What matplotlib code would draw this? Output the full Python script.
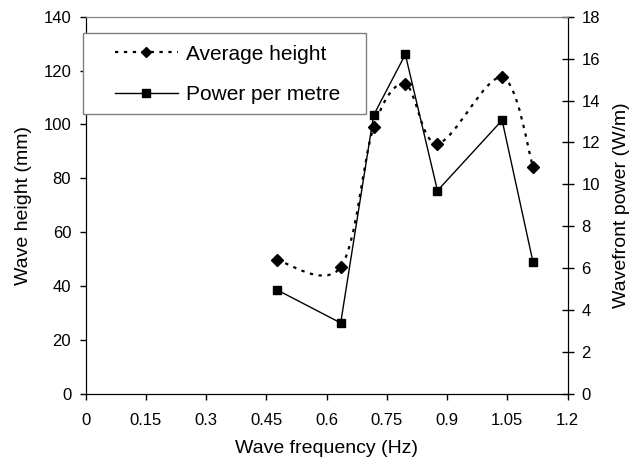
import numpy as np
import matplotlib
matplotlib.use("Agg")
import matplotlib.pyplot as plt
from matplotlib.path import Path
from matplotlib.patches import PathPatch, Rectangle
from matplotlib.lines import Line2D

plt.rcParams['font.family'] = ['Liberation Sans', 'DejaVu Sans']

# data
freq = [0.476, 0.635, 0.717, 0.796, 0.876, 1.037, 1.114]
avg_height = [49.6, 47.1, 98.9, 114.9, 92.9, 117.5, 84.3]
power = [4.97, 3.39, 13.3, 16.2, 9.7, 13.06, 6.29]

fig = plt.figure(figsize=(6.34, 4.62), dpi=100)
ax_rect = [0.1352, 0.1472, 0.760, 0.8167]
ax = fig.add_axes(ax_rect)
ax2 = ax.twinx()

ax.set_xlim(0, 1.2)
ax.set_ylim(0, 140)
ax2.set_ylim(0, 18)

# smoothed dotted line (excel style), catmull-rom -> bezier in pixel-like units
sx, sy = ax_rect[2] * 634 / 1.2, ax_rect[3] * 462 / 140
P = np.column_stack([np.array(freq) * sx, np.array(avg_height) * sy])
verts = [P[0]]
codes = [Path.MOVETO]
n = len(P)
for i in range(n - 1):
    p0 = P[i - 1] if i > 0 else P[i]
    p1, p2 = P[i], P[i + 1]
    p3 = P[i + 2] if i + 2 < n else P[i + 1]
    verts += [p1 + (p2 - p0) / 6.0, p2 - (p3 - p1) / 6.0, p2]
    codes += [Path.CURVE4] * 3
verts = np.array(verts) / np.array([sx, sy])
dots = (0, (1.5, 2.5))
ax.add_patch(PathPatch(Path(verts, codes), facecolor='none', edgecolor='black',
                       lw=1.6, linestyle=dots))
ax.plot(freq, avg_height, linestyle='none', marker='D', color='black', markersize=6.5)

ax2.plot(freq, power, color='black', lw=1, marker='s', markersize=6.3)

ax.set_xticks(np.arange(0, 1.21, 0.15))
ax.set_xticklabels(['0', '0.15', '0.3', '0.45', '0.6', '0.75', '0.9', '1.05', '1.2'])
ax.set_yticks(range(0, 141, 20))
ax2.set_yticks(range(0, 19, 2))

ax.tick_params(axis='x', direction='out', length=4, labelsize=12, width=1, pad=10)
ax.tick_params(axis='y', direction='out', length=4, labelsize=12, width=1, pad=6.5)
ax2.tick_params(axis='y', direction='inout', length=8, labelsize=12, width=1, pad=6)

for a in (ax, ax2):
    a.spines['top'].set_color('#808080')
    for s in ('left', 'right', 'bottom'):
        a.spines[s].set_color('black')

ax.set_xlabel('Wave frequency (Hz)', fontsize=14, labelpad=8)
ax.set_ylabel('Wave height (mm)', fontsize=14, labelpad=8)
ax2.set_ylabel('Wavefront power (W/m)', fontsize=14, labelpad=9)

# legend frame drawn by hand so the padding matches
frame = Rectangle((-0.0056, 0.742), 0.587, 0.2148, transform=ax.transAxes,
                  facecolor='white', edgecolor='#808080', lw=1, clip_on=False, zorder=9)
ax2.add_patch(frame)

handles = [
    Line2D([], [], color='black', lw=1.6, linestyle=dots, marker='D', markersize=5.5),
    Line2D([], [], color='black', lw=1, marker='s', markersize=5.5),
]
leg = ax2.legend(handles, ['Average height', 'Power per metre'], loc='upper left',
                 bbox_to_anchor=(0.0608, 0.926), bbox_transform=ax.transAxes,
                 fontsize=15, frameon=False, handlelength=3.0, borderpad=0,
                 borderaxespad=0, labelspacing=1.05, handletextpad=0.4)
leg.set_zorder(10)

fig.savefig('out.png', dpi=100)
